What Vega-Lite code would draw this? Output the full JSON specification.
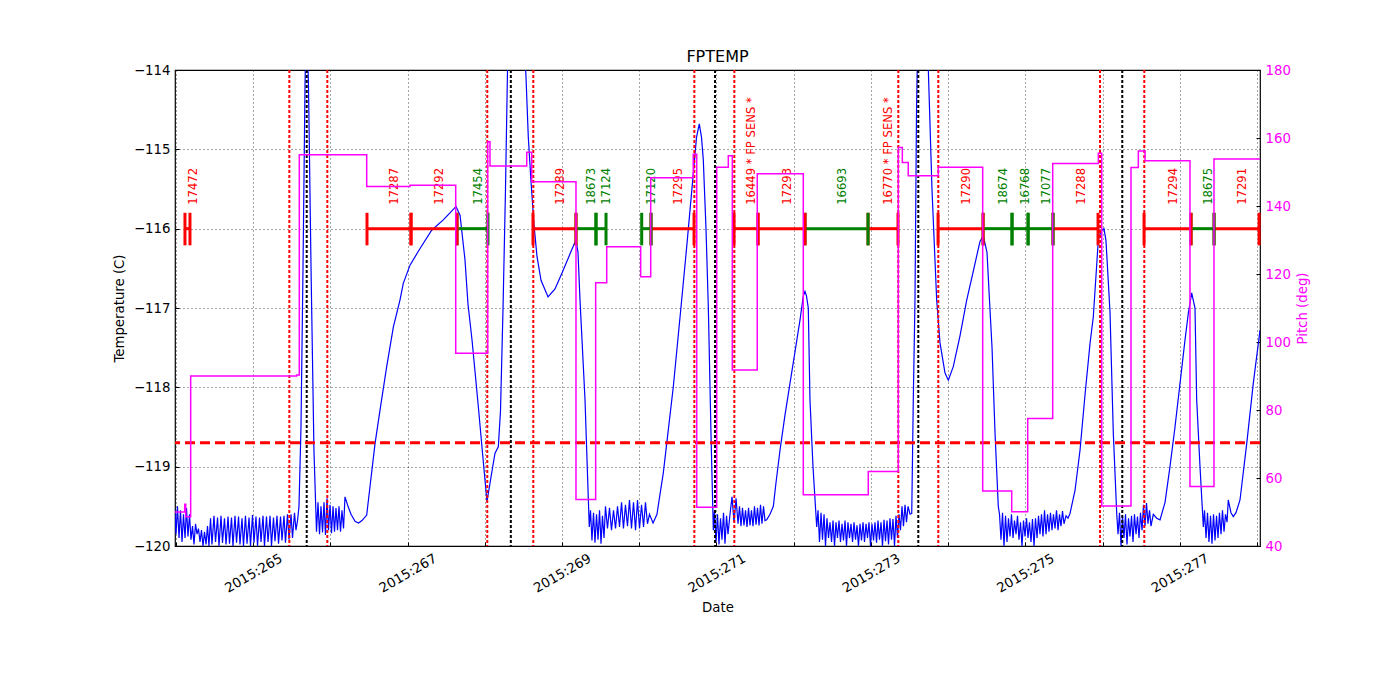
{
"$schema": "https://vega.github.io/schema/vega-lite/v6.json",
"autosize": {"type": "none"},
"padding": {"left": 175, "top": 70, "right": 140, "bottom": 154},
"width": 1085, "height": 476,
"background": "white",
"config": {
 "font": "DejaVu Sans",
 "view": {"stroke": "black", "strokeWidth": 1.2},
 "axis": {"labelFont": "DejaVu Sans", "titleFont": "DejaVu Sans", "labelFontSize": 13.3, "titleFontSize": 13.3, "titleFontWeight": "normal", "labelColor": "black", "titleColor": "black", "domain": false, "tickColor": "black", "tickSize": -4, "gridColor": "black", "gridDash": [1, 3], "gridOpacity": 0.7, "gridWidth": 1}
},
"title": {"text": "FPTEMP", "fontSize": 16, "fontWeight": "normal", "font": "DejaVu Sans", "color": "black", "frame": "group", "anchor": "middle", "baseline": "bottom", "offset": -18},
"datasets": {
 "temp": [
{"day":263.986,"temp":-119.55},{"day":263.999,"temp":-119.85},{"day":264.018,"temp":-119.5},{"day":264.038,"temp":-119.9},{"day":264.057,"temp":-119.55},{"day":264.077,"temp":-119.95},{"day":264.096,"temp":-119.6},{"day":264.116,"temp":-119.9},{"day":264.135,"temp":-119.52},{"day":264.154,"temp":-119.88},{"day":264.174,"temp":-119.6},{"day":264.193,"temp":-119.92},{"day":264.213,"temp":-119.75},{"day":264.232,"temp":-119.98},{"day":264.252,"temp":-119.72},{"day":264.271,"temp":-119.85},{"day":264.29,"temp":-119.78},{"day":264.31,"temp":-119.95},{"day":264.329,"temp":-119.8},{"day":264.349,"temp":-120.0},{"day":264.368,"temp":-119.82},{"day":264.388,"temp":-119.98},{"day":264.407,"temp":-119.75},{"day":264.426,"temp":-120.0},{"day":264.446,"temp":-119.65},{"day":264.465,"temp":-119.98},{"day":264.491,"temp":-119.62},{"day":264.511,"temp":-119.95},{"day":264.537,"temp":-119.64},{"day":264.556,"temp":-120.0},{"day":264.582,"temp":-119.62},{"day":264.601,"temp":-119.96},{"day":264.627,"temp":-119.65},{"day":264.647,"temp":-119.98},{"day":264.673,"temp":-119.63},{"day":264.692,"temp":-119.97},{"day":264.718,"temp":-119.64},{"day":264.737,"temp":-120.0},{"day":264.763,"temp":-119.62},{"day":264.783,"temp":-119.96},{"day":264.809,"temp":-119.63},{"day":264.828,"temp":-119.98},{"day":264.854,"temp":-119.65},{"day":264.873,"temp":-120.0},{"day":264.899,"temp":-119.62},{"day":264.919,"temp":-119.97},{"day":264.945,"temp":-119.64},{"day":264.964,"temp":-120.0},{"day":264.99,"temp":-119.61},{"day":265.009,"temp":-119.96},{"day":265.035,"temp":-119.63},{"day":265.055,"temp":-120.0},{"day":265.081,"temp":-119.64},{"day":265.1,"temp":-119.95},{"day":265.126,"temp":-119.62},{"day":265.145,"temp":-120.0},{"day":265.171,"temp":-119.63},{"day":265.191,"temp":-119.95},{"day":265.217,"temp":-119.62},{"day":265.236,"temp":-120.0},{"day":265.262,"temp":-119.64},{"day":265.281,"temp":-119.94},{"day":265.307,"temp":-119.62},{"day":265.327,"temp":-119.97},{"day":265.353,"temp":-119.63},{"day":265.372,"temp":-119.93},{"day":265.398,"temp":-119.62},{"day":265.417,"temp":-119.96},{"day":265.443,"temp":-119.6},{"day":265.463,"temp":-119.92},{"day":265.489,"temp":-119.6},{"day":265.508,"temp":-119.9},{"day":265.534,"temp":-119.58},{"day":265.553,"temp":-119.8},{"day":265.573,"temp":-119.68},{"day":265.592,"temp":-119.5},{"day":265.618,"temp":-118.5},{"day":265.644,"temp":-116.5},{"day":265.67,"temp":-114.2},{"day":265.689,"temp":-113.2},{"day":265.715,"temp":-114.2},{"day":265.748,"temp":-116.5},{"day":265.786,"temp":-118.8},{"day":265.819,"temp":-119.82},{"day":265.838,"temp":-119.45},{"day":265.858,"temp":-119.85},{"day":265.877,"temp":-119.5},{"day":265.897,"temp":-119.83},{"day":265.916,"temp":-119.45},{"day":265.935,"temp":-119.86},{"day":265.955,"temp":-119.4},{"day":265.974,"temp":-119.8},{"day":265.994,"temp":-119.48},{"day":266.013,"temp":-119.84},{"day":266.033,"temp":-119.5},{"day":266.052,"temp":-119.82},{"day":266.071,"temp":-119.52},{"day":266.091,"temp":-119.8},{"day":266.11,"temp":-119.5},{"day":266.13,"temp":-119.82},{"day":266.149,"temp":-119.55},{"day":266.169,"temp":-119.78},{"day":266.188,"temp":-119.38},{"day":266.227,"temp":-119.5},{"day":266.266,"temp":-119.6},{"day":266.318,"temp":-119.69},{"day":266.363,"temp":-119.71},{"day":266.408,"temp":-119.68},{"day":266.469,"temp":-119.61},{"day":266.512,"temp":-119.25},{"day":266.577,"temp":-118.71},{"day":266.641,"temp":-118.29},{"day":266.728,"temp":-117.74},{"day":266.814,"temp":-117.24},{"day":266.9,"temp":-116.9},{"day":266.943,"temp":-116.69},{"day":267.03,"temp":-116.46},{"day":267.16,"temp":-116.25},{"day":267.311,"temp":-116.02},{"day":267.461,"temp":-115.89},{"day":267.548,"temp":-115.8},{"day":267.626,"temp":-115.72},{"day":267.678,"temp":-115.83},{"day":267.742,"temp":-116.39},{"day":267.781,"temp":-116.95},{"day":267.833,"temp":-117.4},{"day":267.911,"temp":-118.2},{"day":267.976,"temp":-118.9},{"day":268.027,"temp":-119.44},{"day":268.088,"temp":-119.08},{"day":268.131,"temp":-118.83},{"day":268.174,"temp":-118.75},{"day":268.202,"temp":-118.3},{"day":268.235,"temp":-117.0},{"day":268.267,"temp":-115.5},{"day":268.293,"temp":-114.0},{"day":268.351,"temp":-112.6},{"day":268.429,"temp":-112.4},{"day":268.494,"temp":-113.3},{"day":268.533,"temp":-114.1},{"day":268.562,"temp":-114.84},{"day":268.597,"temp":-115.4},{"day":268.636,"temp":-115.95},{"day":268.675,"temp":-116.35},{"day":268.727,"temp":-116.65},{"day":268.818,"temp":-116.86},{"day":268.908,"temp":-116.76},{"day":268.999,"temp":-116.56},{"day":269.102,"temp":-116.32},{"day":269.18,"temp":-116.14},{"day":269.206,"temp":-116.3},{"day":269.232,"temp":-116.9},{"day":269.297,"temp":-118.16},{"day":269.352,"temp":-119.76},{"day":269.368,"temp":-119.55},{"day":269.387,"temp":-119.93},{"day":269.407,"temp":-119.58},{"day":269.426,"temp":-119.96},{"day":269.446,"temp":-119.6},{"day":269.465,"temp":-119.92},{"day":269.485,"temp":-119.55},{"day":269.504,"temp":-119.97},{"day":269.523,"temp":-119.62},{"day":269.543,"temp":-119.9},{"day":269.562,"temp":-119.5},{"day":269.588,"temp":-119.78},{"day":269.614,"temp":-119.52},{"day":269.64,"temp":-119.8},{"day":269.666,"temp":-119.55},{"day":269.692,"temp":-119.78},{"day":269.718,"temp":-119.5},{"day":269.744,"temp":-119.76},{"day":269.77,"temp":-119.45},{"day":269.795,"temp":-119.78},{"day":269.821,"temp":-119.48},{"day":269.847,"temp":-119.75},{"day":269.873,"temp":-119.42},{"day":269.899,"temp":-119.78},{"day":269.925,"temp":-119.45},{"day":269.951,"temp":-119.8},{"day":269.977,"temp":-119.42},{"day":270.003,"temp":-119.78},{"day":270.029,"temp":-119.48},{"day":270.055,"temp":-119.76},{"day":270.08,"temp":-119.45},{"day":270.106,"temp":-119.72},{"day":270.132,"temp":-119.6},{"day":270.178,"temp":-119.71},{"day":270.229,"temp":-119.6},{"day":270.268,"temp":-119.35},{"day":270.311,"temp":-119.08},{"day":270.355,"temp":-118.71},{"day":270.441,"temp":-117.99},{"day":270.549,"temp":-116.9},{"day":270.614,"temp":-116.23},{"day":270.7,"temp":-115.3},{"day":270.741,"temp":-114.85},{"day":270.777,"temp":-114.68},{"day":270.806,"temp":-114.85},{"day":270.829,"temp":-115.13},{"day":270.864,"temp":-116.0},{"day":270.894,"temp":-116.98},{"day":270.929,"temp":-118.6},{"day":270.959,"temp":-119.8},{"day":270.974,"temp":-119.55},{"day":270.994,"temp":-119.95},{"day":271.013,"temp":-119.6},{"day":271.032,"temp":-119.98},{"day":271.052,"temp":-119.65},{"day":271.071,"temp":-119.92},{"day":271.091,"temp":-119.58},{"day":271.11,"temp":-119.97},{"day":271.13,"temp":-119.62},{"day":271.149,"temp":-119.85},{"day":271.175,"temp":-119.6},{"day":271.201,"temp":-119.38},{"day":271.227,"temp":-119.7},{"day":271.253,"temp":-119.4},{"day":271.279,"temp":-119.72},{"day":271.298,"temp":-119.5},{"day":271.317,"temp":-119.75},{"day":271.337,"temp":-119.52},{"day":271.356,"temp":-119.74},{"day":271.376,"temp":-119.55},{"day":271.395,"temp":-119.76},{"day":271.415,"temp":-119.52},{"day":271.434,"temp":-119.74},{"day":271.453,"temp":-119.55},{"day":271.473,"temp":-119.75},{"day":271.492,"temp":-119.5},{"day":271.512,"temp":-119.73},{"day":271.531,"temp":-119.52},{"day":271.551,"temp":-119.74},{"day":271.57,"temp":-119.48},{"day":271.589,"temp":-119.72},{"day":271.609,"temp":-119.5},{"day":271.628,"temp":-119.68},{"day":271.65,"temp":-119.67},{"day":271.693,"temp":-119.6},{"day":271.736,"temp":-119.5},{"day":271.771,"temp":-119.2},{"day":271.823,"temp":-118.79},{"day":271.887,"temp":-118.35},{"day":271.952,"temp":-117.95},{"day":272.017,"temp":-117.55},{"day":272.082,"temp":-117.15},{"day":272.124,"temp":-116.85},{"day":272.146,"temp":-116.79},{"day":272.166,"temp":-116.85},{"day":272.189,"temp":-117.0},{"day":272.211,"temp":-118.16},{"day":272.25,"temp":-119.0},{"day":272.298,"temp":-119.76},{"day":272.315,"temp":-119.55},{"day":272.334,"temp":-119.95},{"day":272.354,"temp":-119.58},{"day":272.373,"temp":-119.92},{"day":272.393,"temp":-119.6},{"day":272.412,"temp":-120.0},{"day":272.431,"temp":-119.65},{"day":272.451,"temp":-119.9},{"day":272.47,"temp":-119.7},{"day":272.49,"temp":-119.95},{"day":272.509,"temp":-119.68},{"day":272.529,"temp":-120.0},{"day":272.548,"temp":-119.7},{"day":272.567,"temp":-119.9},{"day":272.587,"temp":-119.68},{"day":272.606,"temp":-119.95},{"day":272.626,"temp":-119.72},{"day":272.645,"temp":-119.93},{"day":272.665,"temp":-119.68},{"day":272.684,"temp":-120.0},{"day":272.703,"temp":-119.7},{"day":272.723,"temp":-119.9},{"day":272.742,"temp":-119.72},{"day":272.762,"temp":-119.95},{"day":272.781,"temp":-119.7},{"day":272.801,"temp":-119.92},{"day":272.82,"temp":-119.74},{"day":272.839,"temp":-120.0},{"day":272.859,"temp":-119.72},{"day":272.878,"temp":-119.93},{"day":272.898,"temp":-119.7},{"day":272.917,"temp":-119.95},{"day":272.937,"temp":-119.72},{"day":272.956,"temp":-119.9},{"day":272.975,"temp":-119.7},{"day":272.995,"temp":-120.0},{"day":273.014,"temp":-119.72},{"day":273.034,"temp":-119.93},{"day":273.053,"temp":-119.7},{"day":273.073,"temp":-119.96},{"day":273.092,"temp":-119.68},{"day":273.111,"temp":-119.92},{"day":273.131,"temp":-119.7},{"day":273.15,"temp":-120.0},{"day":273.17,"temp":-119.67},{"day":273.189,"temp":-119.94},{"day":273.209,"temp":-119.68},{"day":273.228,"temp":-119.98},{"day":273.247,"temp":-119.65},{"day":273.267,"temp":-119.92},{"day":273.286,"temp":-119.66},{"day":273.306,"temp":-120.0},{"day":273.325,"temp":-119.62},{"day":273.345,"temp":-119.9},{"day":273.364,"temp":-119.6},{"day":273.383,"temp":-119.8},{"day":273.403,"temp":-119.5},{"day":273.422,"temp":-119.75},{"day":273.442,"temp":-119.48},{"day":273.461,"temp":-119.7},{"day":273.481,"temp":-119.5},{"day":273.507,"temp":-119.6},{"day":273.529,"temp":-119.59},{"day":273.549,"temp":-118.16},{"day":273.571,"temp":-116.9},{"day":273.591,"temp":-114.5},{"day":273.617,"temp":-113.0},{"day":273.662,"temp":-112.5},{"day":273.714,"temp":-113.2},{"day":273.744,"temp":-114.0},{"day":273.791,"temp":-115.5},{"day":273.852,"temp":-116.9},{"day":273.895,"temp":-117.44},{"day":273.96,"temp":-117.82},{"day":274.003,"temp":-117.91},{"day":274.067,"temp":-117.74},{"day":274.154,"temp":-117.35},{"day":274.241,"temp":-116.9},{"day":274.323,"temp":-116.55},{"day":274.413,"temp":-116.16},{"day":274.456,"temp":-116.09},{"day":274.504,"temp":-116.3},{"day":274.536,"temp":-116.9},{"day":274.569,"temp":-117.5},{"day":274.608,"temp":-118.58},{"day":274.65,"temp":-119.5},{"day":274.666,"temp":-119.6},{"day":274.685,"temp":-119.92},{"day":274.705,"temp":-119.58},{"day":274.724,"temp":-120.0},{"day":274.744,"temp":-119.62},{"day":274.763,"temp":-119.95},{"day":274.782,"temp":-119.65},{"day":274.802,"temp":-119.88},{"day":274.821,"temp":-119.6},{"day":274.841,"temp":-119.9},{"day":274.86,"temp":-119.68},{"day":274.88,"temp":-119.85},{"day":274.899,"temp":-119.62},{"day":274.918,"temp":-119.92},{"day":274.938,"temp":-119.7},{"day":274.957,"temp":-120.0},{"day":274.977,"temp":-119.68},{"day":274.996,"temp":-119.88},{"day":275.016,"temp":-119.65},{"day":275.035,"temp":-119.9},{"day":275.054,"temp":-119.7},{"day":275.074,"temp":-119.95},{"day":275.093,"temp":-119.66},{"day":275.113,"temp":-120.0},{"day":275.132,"temp":-119.65},{"day":275.152,"temp":-119.9},{"day":275.171,"temp":-119.62},{"day":275.19,"temp":-119.85},{"day":275.21,"temp":-119.6},{"day":275.229,"temp":-119.88},{"day":275.249,"temp":-119.55},{"day":275.268,"temp":-119.85},{"day":275.288,"temp":-119.6},{"day":275.307,"temp":-119.82},{"day":275.326,"temp":-119.58},{"day":275.346,"temp":-119.8},{"day":275.365,"temp":-119.6},{"day":275.385,"temp":-119.78},{"day":275.404,"temp":-119.55},{"day":275.424,"temp":-119.8},{"day":275.443,"temp":-119.6},{"day":275.462,"temp":-119.75},{"day":275.482,"temp":-119.56},{"day":275.501,"temp":-119.72},{"day":275.527,"temp":-119.62},{"day":275.553,"temp":-119.65},{"day":275.579,"temp":-119.59},{"day":275.644,"temp":-119.3},{"day":275.709,"temp":-118.79},{"day":275.773,"temp":-118.1},{"day":275.838,"temp":-117.45},{"day":275.881,"temp":-117.11},{"day":275.946,"temp":-116.14},{"day":275.981,"temp":-116.03},{"day":276.019,"temp":-116.0},{"day":276.045,"temp":-116.15},{"day":276.071,"temp":-116.6},{"day":276.097,"temp":-117.05},{"day":276.14,"temp":-118.58},{"day":276.184,"temp":-119.59},{"day":276.201,"temp":-119.85},{"day":276.22,"temp":-119.58},{"day":276.24,"temp":-120.0},{"day":276.259,"temp":-119.62},{"day":276.278,"temp":-119.9},{"day":276.298,"temp":-119.6},{"day":276.317,"temp":-119.98},{"day":276.337,"temp":-119.65},{"day":276.356,"temp":-119.88},{"day":276.376,"temp":-119.62},{"day":276.395,"temp":-119.95},{"day":276.414,"temp":-119.6},{"day":276.434,"temp":-119.85},{"day":276.453,"temp":-119.63},{"day":276.473,"temp":-119.9},{"day":276.492,"temp":-119.58},{"day":276.512,"temp":-119.8},{"day":276.531,"temp":-119.48},{"day":276.55,"temp":-119.75},{"day":276.57,"temp":-119.46},{"day":276.589,"temp":-119.72},{"day":276.609,"temp":-119.55},{"day":276.628,"temp":-119.75},{"day":276.658,"temp":-119.6},{"day":276.702,"temp":-119.65},{"day":276.745,"temp":-119.67},{"day":276.81,"temp":-119.45},{"day":276.874,"temp":-119.0},{"day":276.939,"temp":-118.5},{"day":277.004,"temp":-117.95},{"day":277.069,"temp":-117.4},{"day":277.111,"temp":-117.07},{"day":277.155,"temp":-116.81},{"day":277.198,"temp":-117.0},{"day":277.22,"temp":-118.16},{"day":277.263,"temp":-119.0},{"day":277.306,"temp":-119.76},{"day":277.321,"temp":-119.55},{"day":277.341,"temp":-119.9},{"day":277.36,"temp":-119.58},{"day":277.379,"temp":-119.95},{"day":277.399,"temp":-119.62},{"day":277.418,"temp":-119.97},{"day":277.438,"temp":-119.6},{"day":277.457,"temp":-119.93},{"day":277.477,"temp":-119.62},{"day":277.496,"temp":-119.9},{"day":277.515,"temp":-119.58},{"day":277.535,"temp":-119.85},{"day":277.554,"temp":-119.55},{"day":277.574,"temp":-119.82},{"day":277.593,"temp":-119.6},{"day":277.613,"temp":-119.7},{"day":277.629,"temp":-119.42},{"day":277.664,"temp":-119.58},{"day":277.694,"temp":-119.63},{"day":277.729,"temp":-119.58},{"day":277.781,"temp":-119.42},{"day":277.868,"temp":-118.71},{"day":277.953,"temp":-117.95},{"day":278.04,"temp":-117.28}
 ],
 "pitch": [
{"day":263.986,"pitch":50.0},{"day":264.112,"pitch":52.3},{"day":264.125,"pitch":48.6},{"day":264.189,"pitch":90.0},{"day":265.562,"pitch":90.3},{"day":265.596,"pitch":155.1},{"day":266.469,"pitch":145.7},{"day":267.03,"pitch":146.1},{"day":267.622,"pitch":96.7},{"day":268.036,"pitch":158.9},{"day":268.066,"pitch":151.8},{"day":268.542,"pitch":155.8},{"day":268.606,"pitch":147.1},{"day":269.18,"pitch":53.7},{"day":269.435,"pitch":117.4},{"day":269.578,"pitch":128.0},{"day":270.018,"pitch":119.2},{"day":270.148,"pitch":148.3},{"day":270.699,"pitch":155.2},{"day":270.744,"pitch":51.4},{"day":271.003,"pitch":151.4},{"day":271.153,"pitch":154.8},{"day":271.205,"pitch":91.8},{"day":271.528,"pitch":149.5},{"day":272.124,"pitch":55.1},{"day":272.966,"pitch":61.9},{"day":273.355,"pitch":157.2},{"day":273.407,"pitch":152.8},{"day":273.484,"pitch":148.9},{"day":273.873,"pitch":151.4},{"day":274.448,"pitch":56.2},{"day":274.824,"pitch":50.1},{"day":275.031,"pitch":77.5},{"day":275.355,"pitch":152.5},{"day":275.946,"pitch":155.5},{"day":275.99,"pitch":51.8},{"day":276.369,"pitch":151.3},{"day":276.464,"pitch":156.2},{"day":276.551,"pitch":153.3},{"day":277.133,"pitch":57.5},{"day":277.444,"pitch":153.8},{"day":278.04,"pitch":153.8}
 ],
 "redlines": [{"day":265.467},{"day":265.959},{"day":268.031},{"day":268.627},{"day":270.713},{"day":271.231},{"day":273.355},{"day":273.873},{"day":275.968},{"day":276.541}],
 "blacklines": [{"day":265.692},{"day":268.336},{"day":270.981},{"day":273.614},{"day":276.256}],
 "segments": [
{"id":"17472","s":264.115,"e":264.18,"mid":264.148,"cat":"r"},
{"id":"17287","s":266.473,"e":267.043,"mid":266.758,"cat":"r"},
{"id":"17292","s":267.043,"e":267.639,"mid":267.341,"cat":"r"},
{"id":"17454","s":267.639,"e":268.04,"mid":267.84,"cat":"g"},
{"id":"17289","s":268.623,"e":269.18,"mid":268.902,"cat":"r"},
{"id":"18673","s":269.18,"e":269.439,"mid":269.31,"cat":"g"},
{"id":"17124","s":269.439,"e":269.569,"mid":269.504,"cat":"g"},
{"id":"17120","s":270.031,"e":270.152,"mid":270.092,"cat":"g"},
{"id":"17295","s":270.152,"e":270.709,"mid":270.431,"cat":"r"},
{"id":"16449 * FP SENS *","s":271.227,"e":271.538,"mid":271.383,"cat":"r"},
{"id":"17293","s":271.538,"e":272.147,"mid":271.843,"cat":"r"},
{"id":"16693","s":272.147,"e":272.963,"mid":272.555,"cat":"g"},
{"id":"16770 * FP SENS *","s":272.963,"e":273.351,"mid":273.157,"cat":"r"},
{"id":"17290","s":273.87,"e":274.453,"mid":274.162,"cat":"r"},
{"id":"18674","s":274.453,"e":274.828,"mid":274.641,"cat":"g"},
{"id":"16768","s":274.828,"e":275.036,"mid":274.932,"cat":"g"},
{"id":"17077","s":275.036,"e":275.359,"mid":275.198,"cat":"g"},
{"id":"17288","s":275.359,"e":275.942,"mid":275.651,"cat":"r"},
{"id":"17294","s":276.538,"e":277.147,"mid":276.843,"cat":"r"},
{"id":"18675","s":277.147,"e":277.445,"mid":277.296,"cat":"g"},
{"id":"17291","s":277.445,"e":278.028,"mid":277.737,"cat":"r"}
 ]
},
"layer": [
 {
  "layer": [
   {
    "data": {"name": "temp"},
    "mark": {"type": "line", "color": "#0000ff", "strokeWidth": 1.2, "clip": true},
    "encoding": {
     "x": {"field": "day", "type": "quantitative", "title": "Date", "scale": {"domain": [263.986, 278.04], "nice": false, "zero": false},
       "axis": {"values": [264,265,266,267,268,269,270,271,272,273,274,275,276,277,278], "labelExpr": "datum.value % 2 == 1 ? '2015:' + datum.value : ''", "labelAngle": -30, "labelAlign": "center", "labelBaseline": "middle", "labelPadding": 31, "titlePadding": 6, "grid": true}},
     "y": {"field": "temp", "type": "quantitative", "title": "Temperature (C)", "scale": {"domain": [-120, -114], "nice": false, "zero": false},
       "axis": {"values": [-120,-119,-118,-117,-116,-115,-114], "format": "d", "labelPadding": 9, "titlePadding": 7, "grid": true}}
    }
   },
   {
    "data": {"name": "redlines"},
    "mark": {"type": "rule", "color": "#ff0000", "strokeWidth": 2, "strokeDash": [3, 2]},
    "encoding": {"x": {"field": "day", "type": "quantitative", "title": "Date"}}
   },
   {
    "data": {"name": "blacklines"},
    "mark": {"type": "rule", "color": "black", "strokeWidth": 2, "strokeDash": [3, 2]},
    "encoding": {"x": {"field": "day", "type": "quantitative", "title": "Date"}}
   },
   {
    "data": {"values": [{"limit": -118.7}]},
    "mark": {"type": "rule", "color": "#ff0000", "strokeWidth": 3, "strokeDash": [10, 5]},
    "encoding": {"y": {"field": "limit", "type": "quantitative"}}
   },
   {
    "data": {"name": "segments"},
    "mark": {"type": "rule", "strokeWidth": 3},
    "encoding": {
     "x": {"field": "s", "type": "quantitative", "title": "Date"},
     "x2": {"field": "e"},
     "y": {"datum": -116},
     "color": {"field": "cat", "type": "nominal", "scale": {"domain": ["r", "g"], "range": ["#ff0000", "#008000"]}, "legend": null}
    }
   },
   {
    "data": {"name": "segments"},
    "mark": {"type": "rule", "strokeWidth": 3},
    "encoding": {
     "x": {"field": "s", "type": "quantitative", "title": "Date"},
     "y": {"datum": -116.21},
     "y2": {"datum": -115.8},
     "color": {"field": "cat", "type": "nominal", "scale": {"domain": ["r", "g"], "range": ["#ff0000", "#008000"]}, "legend": null}
    }
   },
   {
    "data": {"name": "segments"},
    "mark": {"type": "rule", "strokeWidth": 3},
    "encoding": {
     "x": {"field": "e", "type": "quantitative", "title": "Date"},
     "y": {"datum": -116.21},
     "y2": {"datum": -115.8},
     "color": {"field": "cat", "type": "nominal", "scale": {"domain": ["r", "g"], "range": ["#ff0000", "#008000"]}, "legend": null}
    }
   },
   {
    "data": {"name": "segments"},
    "mark": {"type": "text", "angle": 270, "align": "left", "baseline": "top", "fontSize": 11.6, "font": "DejaVu Sans"},
    "encoding": {
     "x": {"field": "mid", "type": "quantitative", "title": "Date"},
     "y": {"datum": -115.7},
     "text": {"field": "id"},
     "color": {"field": "cat", "type": "nominal", "scale": {"domain": ["r", "g"], "range": ["#ff0000", "#008000"]}, "legend": null}
    }
   }
  ]
 },
 {
  "data": {"name": "pitch"},
  "mark": {"type": "line", "color": "#ff00ff", "strokeWidth": 1.5, "interpolate": "step-after", "clip": true},
  "encoding": {
   "x": {"field": "day", "type": "quantitative", "title": "Date"},
   "y": {"field": "pitch", "type": "quantitative", "title": "Pitch (deg)", "scale": {"domain": [40, 180], "nice": false, "zero": false},
     "axis": {"orient": "right", "values": [40,60,80,100,120,140,160,180], "labelColor": "#ff00ff", "titleColor": "#ff00ff", "labelPadding": 9, "titlePadding": 5, "titleAngle": 270, "titleBaseline": "top", "grid": false}}
  }
 }
],
"resolve": {"scale": {"y": "independent"}}
}
